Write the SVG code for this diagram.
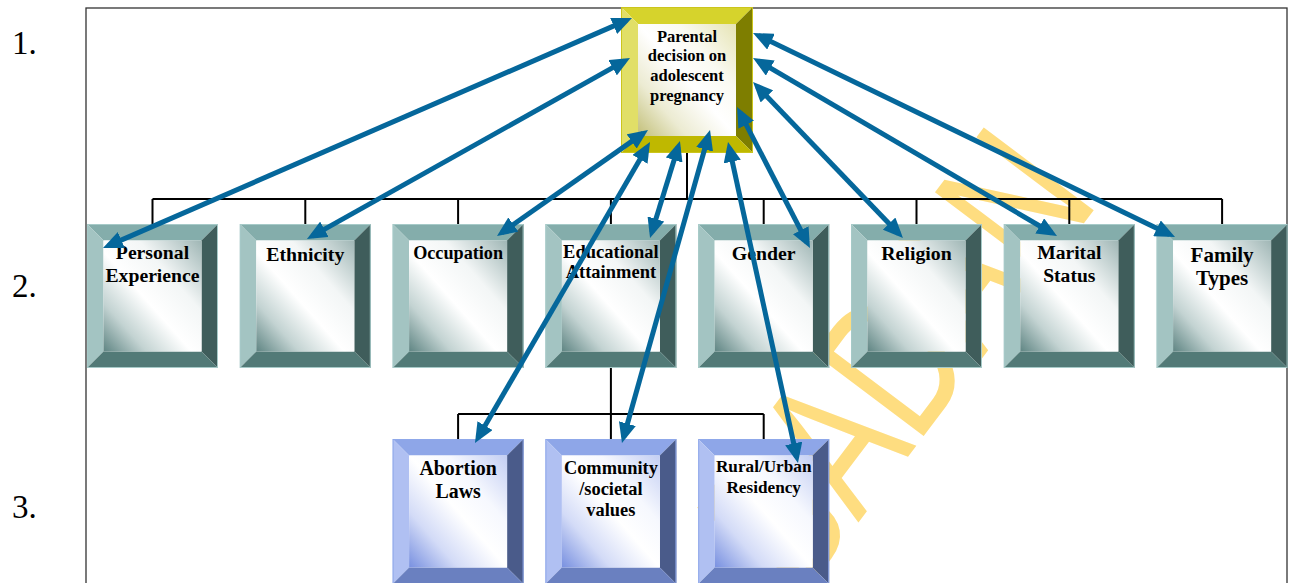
<svg xmlns="http://www.w3.org/2000/svg" xmlns:xlink="http://www.w3.org/1999/xlink" width="1294" height="583" viewBox="0 0 1294 583">
<style>
.lbl{font-family:"Liberation Serif","Times New Roman",serif;font-weight:bold;fill:#000;text-anchor:middle}
.lvl{font-family:"Liberation Serif","Times New Roman",serif;font-size:33px;fill:#000}
.tree{fill:none;stroke:#000;stroke-width:2}
.arr{fill:none;stroke:#05679b;stroke-width:5;marker-start:url(#ah);marker-end:url(#ah)}
.wm{font-family:"Liberation Sans",Arial,sans-serif;font-size:200px;fill:#fedd80}
</style>
<defs>
<marker id="ah" viewBox="0 0 4 3.5" refX="2.8" refY="1.75" markerWidth="4" markerHeight="3.5" orient="auto-start-reverse">
<path d="M0,0 L4,1.75 L0,3.5 z" fill="#05679b"/>
</marker>
<linearGradient id="gT" x1="0" y1="1" x2="1" y2="0">
<stop offset="0" stop-color="#5f8583"/>
<stop offset="0.22" stop-color="#c3d3d2"/>
<stop offset="0.45" stop-color="#ffffff"/>
<stop offset="0.68" stop-color="#f3f6f6"/>
<stop offset="1" stop-color="#9fb6b5"/>
</linearGradient>
<linearGradient id="gG" x1="0" y1="1" x2="1" y2="0">
<stop offset="0" stop-color="#c2bf78"/>
<stop offset="0.25" stop-color="#ecebd2"/>
<stop offset="0.5" stop-color="#ffffff"/>
<stop offset="0.7" stop-color="#fafaf2"/>
<stop offset="1" stop-color="#e6e4b4"/>
</linearGradient>
<linearGradient id="gB" x1="0" y1="1" x2="1" y2="0">
<stop offset="0" stop-color="#7890e0"/>
<stop offset="0.25" stop-color="#d3dbf7"/>
<stop offset="0.5" stop-color="#ffffff"/>
<stop offset="0.7" stop-color="#f6f8fe"/>
<stop offset="1" stop-color="#c3cef3"/>
</linearGradient>
<g id="bvT">
<polygon points="0,0 131,0 114.5,16.5 16.5,16.5" fill="#84adab"/>
<polygon points="0,0 16.5,16.5 16.5,127.5 0,144" fill="#a3c4c2"/>
<polygon points="131,0 131,144 114.5,127.5 114.5,16.5" fill="#3f5d5b"/>
<polygon points="0,144 16.5,127.5 114.5,127.5 131,144" fill="#527a77"/>
<rect x="16.5" y="16.5" width="98" height="111" fill="url(#gT)"/>
<rect x="0.5" y="0.5" width="130" height="143" fill="none" stroke="#a6cac8" stroke-width="1"/>
</g>
<g id="bvB">
<polygon points="0,0 131,0 114.5,16.5 16.5,16.5" fill="#8ea6e8"/>
<polygon points="0,0 16.5,16.5 16.5,128.5 0,145" fill="#b0c0f2"/>
<polygon points="131,0 131,145 114.5,128.5 114.5,16.5" fill="#4a5b8a"/>
<polygon points="0,145 16.5,128.5 114.5,128.5 131,145" fill="#6a80c0"/>
<rect x="16.5" y="16.5" width="98" height="112" fill="url(#gB)"/>
<rect x="0.5" y="0.5" width="130" height="144" fill="none" stroke="#8fa8ea" stroke-width="1"/>
</g>
<g id="bvG">
<polygon points="0,0 132,0 115,17 17,17" fill="#d6d32c"/>
<polygon points="0,0 17,17 17,129 0,146" fill="#e1df67"/>
<polygon points="132,0 132,146 115,129 115,17" fill="#7e7e00"/>
<polygon points="0,146 17,129 115,129 132,146" fill="#bfb800"/>
<rect x="17" y="17" width="98" height="112" fill="url(#gG)"/>
<rect x="0.5" y="0.5" width="131" height="145" fill="none" stroke="#cbc51c" stroke-width="1"/>
</g>
</defs>
<rect x="0" y="0" width="1294" height="583" fill="#fff"/>
<g id="frame">
<rect x="86" y="8" width="1201" height="600" fill="none" stroke="#333" stroke-width="1.3"/>
</g>
<g id="levels">
<text class="lvl" x="12" y="54">1.</text>
<text class="lvl" x="12" y="297">2.</text>
<text class="lvl" x="12" y="518">3.</text>
</g>
<g id="watermark">
<text class="wm" transform="translate(800,600) rotate(-53)" x="0" y="0" textLength="500" lengthAdjust="spacingAndGlyphs">BADAN</text>
</g>
<g id="tree">
<path class="tree" d="M687,153 V199 M152.5,199 H1222.1 M152.5,199 V224 M305.3,199 V224 M458.1,199 V224 M610.9,199 V224 M763.7,199 V224 M916.5,199 V224 M1069.3,199 V224 M1222.1,199 V224"/>
<path class="tree" d="M610.9,368 V414 M458.1,414 H763.7 M458.1,414 V439 M610.9,414 V439 M763.7,414 V439"/>
</g>
<g id="node-parental" transform="translate(621,7)">
<use xlink:href="#bvG"/>
<text class="lbl" font-size="16.5"><tspan x="66" y="34.7">Parental</tspan><tspan x="66" y="54">decision on</tspan><tspan x="66" y="74">adolescent</tspan><tspan x="66" y="93.5">pregnancy</tspan></text>
</g>
<g id="node-personal" transform="translate(87,224)">
<use xlink:href="#bvT"/>
<text class="lbl" font-size="19.7"><tspan x="65.5" y="35">Personal</tspan><tspan x="65.5" y="58">Experience</tspan></text>
</g>
<g id="node-ethnicity" transform="translate(239.8,224)">
<use xlink:href="#bvT"/>
<text class="lbl" font-size="19.8" x="65.5" y="36.5">Ethnicity</text>
</g>
<g id="node-occupation" transform="translate(392.6,224)">
<use xlink:href="#bvT"/>
<text class="lbl" font-size="18.2" x="65.5" y="34.5">Occupation</text>
</g>
<g id="node-education" transform="translate(545.4,224)">
<use xlink:href="#bvT"/>
<text class="lbl" font-size="18.5"><tspan x="65.5" y="34.3">Educational</tspan><tspan x="65.5" y="54.3">Attainment</tspan></text>
</g>
<g id="node-gender" transform="translate(698.2,224)">
<use xlink:href="#bvT"/>
<text class="lbl" font-size="19.8" x="65.5" y="36">Gender</text>
</g>
<g id="node-religion" transform="translate(851,224)">
<use xlink:href="#bvT"/>
<text class="lbl" font-size="19.8" x="65.5" y="36">Religion</text>
</g>
<g id="node-marital" transform="translate(1003.8,224)">
<use xlink:href="#bvT"/>
<text class="lbl" font-size="19.6"><tspan x="65.5" y="35.3">Marital</tspan><tspan x="65.5" y="57.7">Status</tspan></text>
</g>
<g id="node-family" transform="translate(1156.6,224)">
<use xlink:href="#bvT"/>
<text class="lbl" font-size="21"><tspan x="65.5" y="37.7">Family</tspan><tspan x="65.5" y="61">Types</tspan></text>
</g>
<g id="node-abortion" transform="translate(392.6,439)">
<use xlink:href="#bvB"/>
<text class="lbl" font-size="19.9"><tspan x="65.5" y="36">Abortion</tspan><tspan x="65.5" y="59.3">Laws</tspan></text>
</g>
<g id="node-community" transform="translate(545.4,439)">
<use xlink:href="#bvB"/>
<text class="lbl" font-size="18.4"><tspan x="65.5" y="35">Community</tspan><tspan x="65.5" y="56">/societal</tspan><tspan x="65.5" y="77">values</tspan></text>
</g>
<g id="node-rural" transform="translate(698.2,439)">
<use xlink:href="#bvB"/>
<text class="lbl" font-size="17.2"><tspan x="65.5" y="32.7">Rural/Urban</tspan><tspan x="65.5" y="53.7">Residency</tspan></text>
</g>
<g id="connectors">
<line class="arr" x1="108.5" y1="245.6" x2="626.5" y2="20.4"/>
<line class="arr" x1="312.2" y1="236.1" x2="624.8" y2="60.9"/>
<line class="arr" x1="501.9" y1="232.6" x2="643.1" y2="133.4"/>
<line class="arr" x1="651.8" y1="232.3" x2="678.2" y2="146.7"/>
<line class="arr" x1="807.2" y1="242.7" x2="739.8" y2="112.3"/>
<line class="arr" x1="898.8" y1="233.7" x2="757.2" y2="86.3"/>
<line class="arr" x1="1051.8" y1="233.0" x2="758.2" y2="61.0"/>
<line class="arr" x1="1169.6" y1="234.4" x2="758.4" y2="35.6"/>
<line class="arr" x1="478.0" y1="437.8" x2="647.0" y2="147.2"/>
<line class="arr" x1="623.6" y1="437.2" x2="708.4" y2="135.8"/>
<line class="arr" x1="796.7" y1="457.1" x2="729.3" y2="147.9"/>
</g>
</svg>
